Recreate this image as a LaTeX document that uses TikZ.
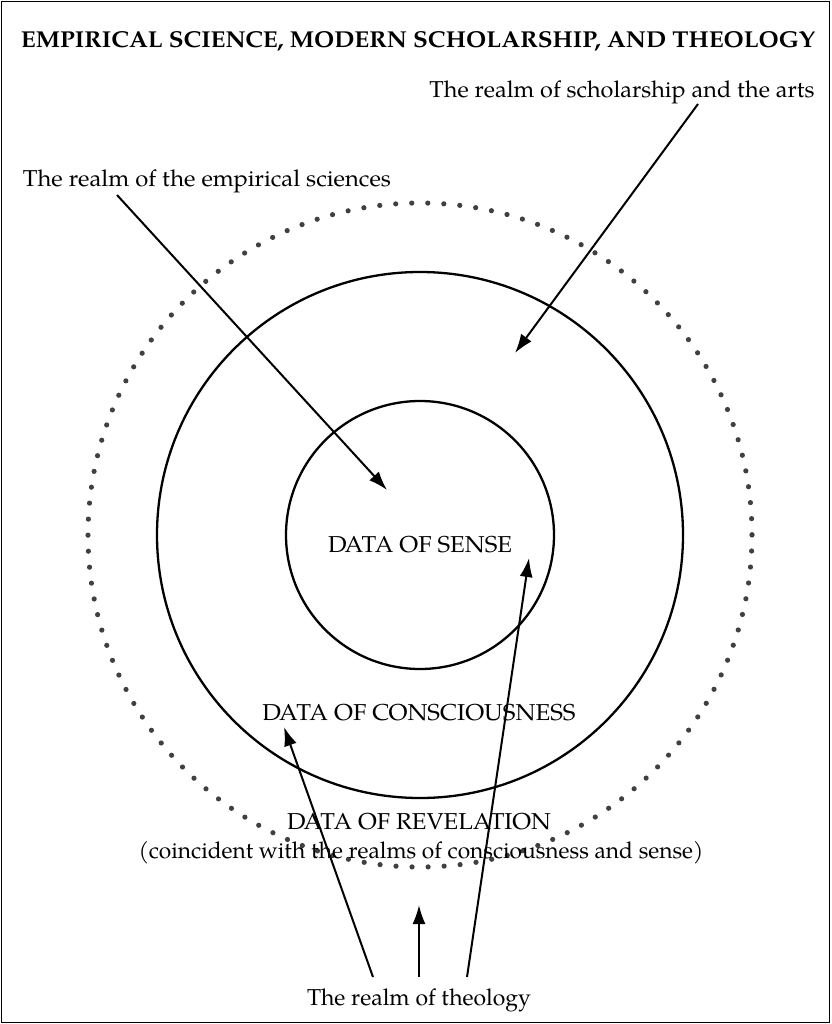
\documentclass[tikz,border=0pt]{standalone}
\usepackage{fontspec}
\setmainfont{TeX Gyre Pagella}
\usepackage{graphicx}
\usetikzlibrary{arrows.meta}
\newcommand\tw[2]{\resizebox{#1pt}{\height}{#2}}
\begin{document}
\begin{tikzpicture}[x=1pt,y=-1pt,
  lbl/.style={inner sep=0pt,anchor=base,font=\fontsize{23}{27}\selectfont},
  ring/.style={line width=2.3pt},
  arr/.style={line width=2pt,-{Latex[length=19pt,width=13pt]}},
  dotring/.style={line width=5.2pt,line cap=round,color=black!75,dash pattern=on 0pt off 16.046pt}]
\useasboundingbox (0,0) rectangle (831,1024);
\draw[line width=1.5pt] (1.5,1.5) rectangle (829.5,1022.5);
% title
\node[lbl,font=\fontsize{23}{27}\selectfont\bfseries] (title) at (418,48) {\tw{794}{EMPIRICAL SCIENCE, MODERN SCHOLARSHIP, AND THEOLOGY}};
% circles
\coordinate (c) at (420,535);
\draw[dotring] (c) circle[radius=332];
\draw[ring] (c) circle[radius=263];
\draw[ring] (c) circle[radius=134];
% labels
\node[lbl] (schol) at (622,98) {\tw{385}{The realm of scholarship and the arts}};
\node[lbl] (emp) at (207,187) {\tw{368}{The realm of the empirical sciences}};
\node[lbl] (sense) at (420,552) {\tw{184}{DATA OF SENSE}};
\node[lbl] (consc) at (419,720) {\tw{313}{DATA OF CONSCIOUSNESS}};
\node[lbl] (rev) at (419,829) {\tw{264}{DATA OF REVELATION}};
\node[lbl] (coinc) at (421,858) {\tw{565}{(coincident with the realms of consciousness and sense)}};
\node[lbl] (theo) at (419,1005) {\tw{224}{The realm of theology}};
% arrow anchor points
\coordinate (empS) at (117,195);
\coordinate (empE) at (387,490);
\coordinate (schS) at (698,104);
\coordinate (schE) at (515,353);
\coordinate (tL) at (373,977);
\coordinate (tC) at (419,977);
\coordinate (tR) at (467,977);
\coordinate (eL) at (284,727);
\coordinate (eC) at (419,905);
\coordinate (eR) at (529,558);
\draw[arr] (empS) -- (empE);
\draw[arr] (schS) -- (schE);
\draw[arr] (tL) -- (eL);
\draw[arr] (tC) -- (eC);
\draw[arr] (tR) -- (eR);
\end{tikzpicture}
\end{document}
